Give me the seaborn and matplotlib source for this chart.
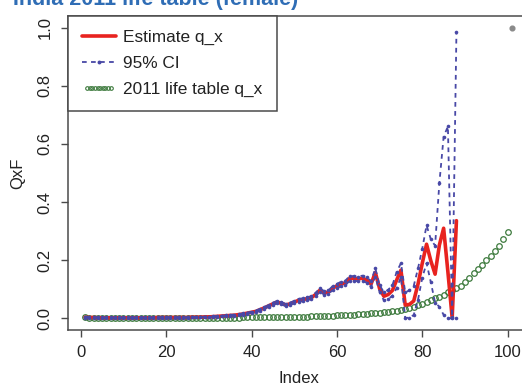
import numpy as np
import pandas as pd
import matplotlib
matplotlib.use("Agg")
import matplotlib.pyplot as plt
from matplotlib.legend_handler import HandlerLine2D
import seaborn as sns

# Estimated female death probabilities by age index, with 95% bounds
estimate_qx = [
    0.004, 0.003, 0.003, 0.002, 0.002, 0.002, 0.002, 0.002, 0.002, 0.002,
    0.002, 0.002, 0.002, 0.002, 0.002, 0.002, 0.002, 0.003, 0.003, 0.003,
    0.003, 0.003, 0.003, 0.003, 0.003, 0.004, 0.004, 0.004, 0.005, 0.005,
    0.006, 0.007, 0.008, 0.009, 0.010, 0.011, 0.013, 0.015, 0.018, 0.021,
    0.024, 0.030, 0.036, 0.043, 0.050, 0.056, 0.052, 0.046, 0.050, 0.056,
    0.062, 0.064, 0.068, 0.071, 0.082, 0.097, 0.088, 0.090, 0.104, 0.112,
    0.118, 0.122, 0.138, 0.137, 0.136, 0.138, 0.132, 0.118, 0.158, 0.102,
    0.076, 0.082, 0.096, 0.132, 0.166, 0.046, 0.048, 0.060, 0.118, 0.190,
    0.255, 0.198, 0.152, 0.252, 0.310, 0.160, 0.002, 0.336,
]
ci_upper = [
    0.006, 0.005, 0.004, 0.004, 0.003, 0.003, 0.003, 0.003, 0.003, 0.003,
    0.003, 0.003, 0.003, 0.003, 0.003, 0.003, 0.003, 0.004, 0.004, 0.004,
    0.004, 0.004, 0.004, 0.004, 0.004, 0.005, 0.005, 0.005, 0.006, 0.006,
    0.007, 0.008, 0.009, 0.010, 0.012, 0.013, 0.015, 0.017, 0.020, 0.023,
    0.027, 0.033, 0.039, 0.046, 0.054, 0.060, 0.056, 0.050, 0.054, 0.060,
    0.067, 0.069, 0.073, 0.076, 0.088, 0.103, 0.094, 0.096, 0.111, 0.119,
    0.126, 0.130, 0.146, 0.145, 0.144, 0.147, 0.141, 0.128, 0.172, 0.114,
    0.090, 0.098, 0.114, 0.160, 0.190, 0.090, 0.096, 0.112, 0.172, 0.240,
    0.320, 0.272, 0.250, 0.465, 0.625, 0.660, 0.006, 0.985,
]
ci_lower = [
    0.002, 0.001, 0.002, 0.001, 0.001, 0.001, 0.001, 0.001, 0.001, 0.001,
    0.001, 0.001, 0.001, 0.001, 0.001, 0.001, 0.001, 0.002, 0.002, 0.002,
    0.002, 0.002, 0.002, 0.002, 0.002, 0.003, 0.003, 0.003, 0.004, 0.004,
    0.005, 0.006, 0.007, 0.008, 0.008, 0.009, 0.011, 0.013, 0.016, 0.019,
    0.021, 0.027, 0.033, 0.040, 0.046, 0.052, 0.048, 0.042, 0.046, 0.052,
    0.057, 0.059, 0.063, 0.066, 0.076, 0.091, 0.082, 0.084, 0.097, 0.105,
    0.110, 0.114, 0.130, 0.129, 0.128, 0.129, 0.123, 0.108, 0.144, 0.090,
    0.062, 0.066, 0.078, 0.104, 0.142, 0.002, 0.002, 0.012, 0.064, 0.140,
    0.190, 0.124, 0.054, 0.040, 0.012, 0.000, 0.000, 0.000,
]
# 2011 life table death probabilities, ages indexed 1..100, plus open interval
life_table_qx = [
    0.004, 0.001, 0.001, 0.001, 0.001, 0.001, 0.001, 0.001, 0.001, 0.001,
    0.001, 0.001, 0.001, 0.001, 0.001, 0.001, 0.001, 0.001, 0.001, 0.001,
    0.001, 0.001, 0.001, 0.001, 0.001, 0.002, 0.002, 0.002, 0.002, 0.002,
    0.002, 0.002, 0.002, 0.002, 0.002, 0.002, 0.002, 0.003, 0.003, 0.003,
    0.003, 0.003, 0.003, 0.004, 0.004, 0.004, 0.004, 0.005, 0.005, 0.005,
    0.006, 0.006, 0.006, 0.007, 0.007, 0.008, 0.008, 0.009, 0.009, 0.010,
    0.011, 0.011, 0.012, 0.013, 0.014, 0.015, 0.016, 0.017, 0.018, 0.020,
    0.021, 0.023, 0.025, 0.027, 0.030, 0.033, 0.036, 0.040, 0.046, 0.051,
    0.057, 0.063, 0.069, 0.075, 0.082, 0.089, 0.096, 0.104, 0.113, 0.126,
    0.140, 0.155, 0.170, 0.185, 0.200, 0.215, 0.232, 0.250, 0.272, 0.298,
]
open_interval_index = 101
open_interval_qx = 1.0

x_ticks = [0, 20, 40, 60, 80, 100]
y_ticks = [0.0, 0.2, 0.4, 0.6, 0.8, 1.0]
title_text = "India 2011 life table (female)"

est_df = pd.DataFrame({"Index": np.arange(1, len(estimate_qx) + 1),
                       "est": estimate_qx, "lo": ci_lower, "hi": ci_upper})
lt_df = pd.DataFrame({"Index": np.arange(1, len(life_table_qx) + 1),
                      "qx": life_table_qx})

sns.set_style("white")
plt.rcParams["font.family"] = ["Liberation Sans", "DejaVu Sans"]

W, H = 522, 386
fig = plt.figure(figsize=(W / 100, H / 100), dpi=100)
# the plot region runs past the right edge of the canvas
ax = fig.add_axes([68 / W, 56 / H, (529 - 68) / W, (330 - 16) / H])

green = "#3d7a3d"
blue = "#4848a6"
red = "#e8231f"
ink = "#222222"
edge = "#4a4a4a"

sns.lineplot(data=lt_df, x="Index", y="qx", ax=ax, linestyle="", marker="o",
             markersize=4.0, markerfacecolor="none", markeredgecolor=green,
             markeredgewidth=0.9, label="_lt")
sns.lineplot(data=est_df, x="Index", y="est", ax=ax, color=red, linewidth=2.6,
             label="_est")
for col in ["lo", "hi"]:
    sns.lineplot(data=est_df, x="Index", y=col, ax=ax, color=blue,
                 linewidth=1.3, dashes=False, linestyle=(0, (2.6, 2.4)),
                 marker="o", markersize=2.6, markeredgewidth=0,
                 label="_ci")
ax.plot([open_interval_index], [open_interval_qx], marker="o", markersize=3.4,
        color="#8a8a8a", linestyle="")

ax.set_xlim(-3, 105)
ax.set_ylim(-0.04, 1.04)
ax.set_xticks(x_ticks)
ax.set_xticklabels([str(t) for t in x_ticks])
ax.set_yticks(y_ticks)
ax.set_yticklabels([f"{t:.1f}" for t in y_ticks], rotation=90, va="center")

for side in ["left", "bottom", "top"]:
    ax.spines[side].set_color(edge)
    ax.spines[side].set_linewidth(1.1)
ax.spines["right"].set_visible(False)
ax.tick_params(axis="both", direction="out", length=5, width=1.0,
               color=edge, labelsize=12, labelcolor=ink, pad=6,
               left=True, bottom=True)

ax.set_xlabel("Index", fontsize=12, color=ink)
ax.set_ylabel("QxF", fontsize=12, color=ink)
ax.xaxis.set_label_coords(0.5, -0.153)
ax.yaxis.set_label_coords(-0.110, 0.5)
ax.xaxis.label.set_va("center")
ax.yaxis.label.set_va("center")

h_est = plt.Line2D([], [], color=red, linewidth=2.6)
h_ci = plt.Line2D([], [], color=blue, linewidth=1.3, linestyle=(0, (2.6, 2.4)),
                  marker="o", markersize=2.8, markeredgewidth=0)
h_lt = plt.Line2D([], [], linestyle="", marker="o", markersize=2.6,
                  markerfacecolor="none", markeredgecolor=green,
                  markeredgewidth=0.8)
leg = ax.legend([h_est, h_ci, h_lt],
                ["Estimate q_x", "95% CI", "2011 life table q_x"],
                loc="upper left", bbox_to_anchor=(0, 1), borderaxespad=0,
                fontsize=12.4, frameon=True, fancybox=False, framealpha=1,
                edgecolor=edge, handlelength=1.95, handletextpad=0.45,
                labelspacing=0.62, borderpad=0.82,
                handler_map={h_lt: HandlerLine2D(numpoints=10),
                             h_ci: HandlerLine2D(numpoints=1)})
leg.get_frame().set_linewidth(1.1)
for t in leg.get_texts():
    t.set_color(ink)

# heading sits mostly above the top edge of the canvas
fig.text(13 / W, 1 - 5 / H, title_text, fontsize=15.5, fontweight="bold",
         color="#2f6db5", ha="left", va="baseline")

fig.savefig("out.png", dpi=100)
